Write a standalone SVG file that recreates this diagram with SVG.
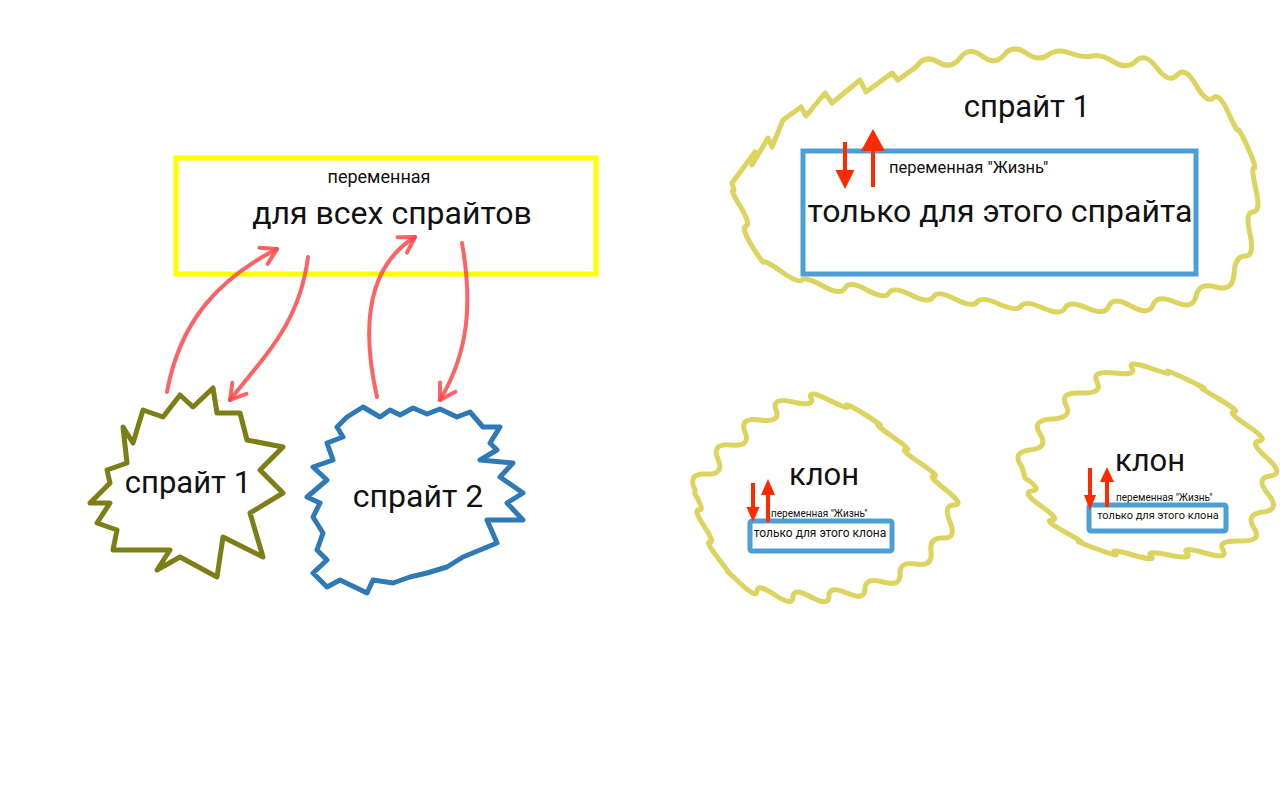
<svg xmlns="http://www.w3.org/2000/svg" width="1280" height="800" viewBox="0 0 1280 800">
<defs>
<style>
text{font-family:Roboto,"Noto Sans","Liberation Sans",sans-serif;fill:#111}
.blob{fill:none;stroke-linejoin:round;stroke-linecap:round}
.olive{stroke:#7e7e16;stroke-width:5}
.bluew{stroke:#2e7ab6;stroke-width:5}
.ywave{stroke:#dcd45e;stroke-width:5}
.ybox{fill:none;stroke:#ffff00;stroke-width:5}
.bbox{fill:#fff;stroke:#4a9fd6;stroke-width:5}
.curve{fill:none;stroke:#ff4646;stroke-opacity:.85;stroke-width:4;stroke-linecap:round;marker-end:url(#chev)}
.shaft{stroke:#ff2a00;stroke-width:4}
.head{fill:#ff2a00}
</style>
<marker id="chev" markerUnits="userSpaceOnUse" viewBox="-20 -12 24 24" refX="0" refY="0" markerWidth="24" markerHeight="24" orient="auto">
<path d="M-15,-9 L0,0 L-15,9" fill="none" stroke="#ff4646" stroke-opacity=".85" stroke-width="4" stroke-linecap="round" stroke-linejoin="round"/>
</marker>
</defs>
<rect width="1280" height="800" fill="#fff"/>

<g id="global-var">
<rect class="ybox" x="176" y="158" width="420" height="116"/>
<text x="379" y="183" font-size="18" text-anchor="middle">переменная</text>
<text x="392" y="224" font-size="32" text-anchor="middle">для всех спрайтов</text>
</g>

<g id="sprite1">
<polyline class="blob olive" points="143,410 163,417 180,395 193,407 213,388 217,413 240,413 247,440 283,447 260,470 283,493 250,513 263,557 223,537 217,577 180,557 157,570 170,550 113,550 117,530 97,523 110,503 90,503 110,483 107,470 127,463 123,427 133,443 143,410"/>
<text x="188" y="493" font-size="31" text-anchor="middle">спрайт 1</text>
</g>

<g id="sprite2">
<polyline class="blob bluew" points="347,417 363,407 380,417 390,410 400,415 413,408 427,414 440,409 457,417 470,412 483,427 500,427 490,443 497,450 480,460 513,463 500,477 523,493 507,503 523,520 487,520 497,543 463,557 447,567 427,573 410,577 393,583 373,580 367,593 340,580 327,587 313,573 327,560 317,550 323,533 313,517 320,503 307,497 327,480 313,467 333,460 327,443 343,437 337,427 347,417"/>
<text x="418" y="507" font-size="32" text-anchor="middle">спрайт 2</text>
</g>

<g id="connectors">
<path class="curve" d="M167,392 C180,320 220,278 277,249"/>
<path class="curve" d="M308,257 C300,320 270,350 230,400"/>
<path class="curve" d="M377,397 C362,330 365,268 415,237"/>
<path class="curve" d="M462,243 C472,300 470,350 440,400"/>
</g>

<g id="sprite1-right">
<path class="blob ywave" d="M732,183 L755,152 L752,165 L768,138 L772,147 L783,120 L801,107 L806,116 L825,93 L832,103 L860,80 L866,92 L892,73 L898,80 L916,67 Q925,54 938,62 T960,58 T982,56 T1004,55 T1026,53 T1048,55 T1070,53 T1092,56 T1114,62 T1136,61 T1157,68 T1177,75 T1196,85 T1213,98 T1228,112 T1238,130 T1248,148 T1254,168 T1256,190 T1253,212 T1250,234 T1245,256 T1234,274 T1216,287 T1196,296 T1175,302 T1153,305 T1131,306 T1109,306 T1087,308 T1065,308 T1043,308 T1021,306 T999,304 T977,302 T955,299 T933,297 T911,295 T889,293 T867,290 T845,288 T823,286 T802,280 T782,272 T764,262 T752,246 T746,226 T740,206 T734,190 Z"/>
<text x="1027" y="117" font-size="31" text-anchor="middle">спрайт 1</text>
<rect class="bbox" x="803" y="151" width="393" height="123"/>
<text x="889" y="173" font-size="16.5">переменная "Жизнь"</text>
<text x="1000" y="222" font-size="32" text-anchor="middle">только для этого спрайта</text>
<line class="shaft" x1="845" y1="142" x2="845" y2="172"/>
<polygon class="head" points="835.5,170 854.5,170 845,189"/>
<line class="shaft" x1="873" y1="187" x2="873" y2="148"/>
<polygon class="head" points="861,151 885,151 873,129"/>
</g>

<g id="clone1">
<path class="blob ywave" d="M695,490 Q687,473 706,474 T718,459 T731,445 T745,432 T760,420 T776,410 T793,402 T811,398 T829,400 T847,406 T864,414 T879,425 T893,437 T906,450 T920,463 T934,476 T946,490 T954,505 T950,522 T943,538 T931,552 T916,564 T900,574 T883,582 T865,589 T847,593 T829,596 T811,597 T793,597 T775,595 T757,591 T741,584 T728,572 T718,558 T710,542 T704,526 T699,510 T695,494 Z"/>
<text x="824" y="485" font-size="31" text-anchor="middle">клон</text>
<rect class="bbox" x="750" y="521" width="142" height="30" rx="2" stroke-width="4.5"/>
<text x="771" y="517" font-size="10">переменная "Жизнь"</text>
<text x="820" y="537" font-size="12" text-anchor="middle">только для этого клона</text>
<line class="shaft" x1="753" y1="483" x2="753" y2="509"/>
<polygon class="head" points="746.5,507 759.5,507 753,522"/>
<line class="shaft" x1="768" y1="522" x2="768" y2="493"/>
<polygon class="head" points="761,495 775,495 768,479"/>
</g>

<g id="clone2">
<path class="blob ywave" d="M1022,467 Q1011,452 1030,450 T1040,434 T1052,419 T1066,405 T1081,393 T1097,382 T1114,373 T1132,368 T1150,368 T1168,372 T1186,379 T1203,388 T1219,399 T1234,412 T1248,426 T1259,441 T1267,458 T1270,476 T1268,494 T1263,512 T1254,528 T1240,541 T1223,550 T1205,553 T1187,553 T1169,555 T1151,556 T1133,555 T1115,553 T1097,549 T1080,542 T1065,532 T1052,520 T1041,506 T1032,491 T1025,478 Z"/>
<text x="1150" y="471" font-size="31" text-anchor="middle">клон</text>
<rect class="bbox" x="1089" y="505" width="137" height="26" rx="2" stroke-width="4.5"/>
<text x="1116" y="501" font-size="10">переменная "Жизнь"</text>
<text x="1158" y="519" font-size="11" text-anchor="middle">только для этого клона</text>
<line class="shaft" x1="1090" y1="468" x2="1090" y2="497"/>
<polygon class="head" points="1084,495 1096,495 1090,510"/>
<line class="shaft" x1="1107" y1="507" x2="1107" y2="480"/>
<polygon class="head" points="1100,482 1114,482 1107,467"/>
</g>
</svg>
